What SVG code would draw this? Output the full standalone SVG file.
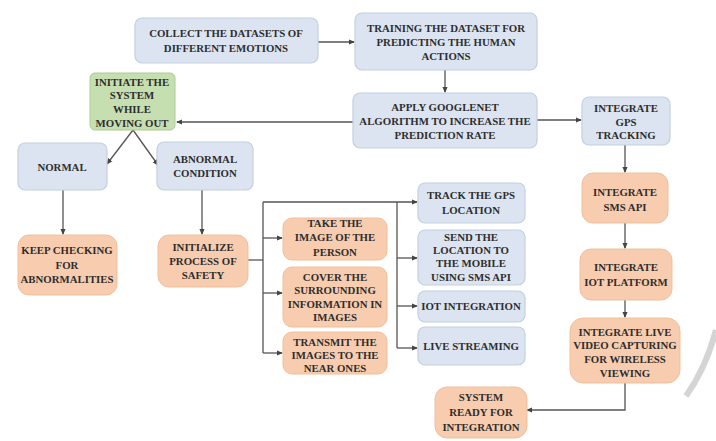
<svg xmlns="http://www.w3.org/2000/svg" width="716" height="441" viewBox="0 0 716 441">
<defs>
<style>
.b{fill:#dbe4f0;stroke:#c3cfe0;stroke-width:1.2}
.o{fill:#f8ccae;stroke:#f1bf9d;stroke-width:1}
.g{fill:#c6dfb1;stroke:#aecb96;stroke-width:1}
text{font-family:"Liberation Serif","Times New Roman",serif;font-weight:bold;font-size:10.8px;fill:#2e2e2e;text-anchor:middle}
.c path{fill:none;stroke:#555;stroke-width:1.3}
</style>
<marker id="a" viewBox="0 0 6 6" refX="5" refY="3" markerWidth="5" markerHeight="5" orient="auto"><path d="M0,0.5 L6,3 L0,5.5 z" fill="#444"/></marker>
</defs>
<rect width="716" height="441" fill="#fff"/>
<path d="M716,330 Q706,368 686,396" fill="none" stroke="#d4d4d4" stroke-width="6"/>
<g class="c">
<path d="M318,42 H354" marker-end="url(#a)"/>
<path d="M445,70 V92" marker-end="url(#a)"/>
<path d="M353,122 H177" marker-end="url(#a)"/>
<path d="M537,120 H581" marker-end="url(#a)"/>
<path d="M133,130 L107,164" marker-end="url(#a)"/>
<path d="M133,130 L158,165" marker-end="url(#a)"/>
<path d="M63,190 V234" marker-end="url(#a)"/>
<path d="M202,190 V234" marker-end="url(#a)"/>
<path d="M248,260 H263"/>
<path d="M263,202 V353"/>
<path d="M263,202 H417" marker-end="url(#a)"/>
<path d="M397,202 V348"/>
<path d="M397,258 H417" marker-end="url(#a)"/>
<path d="M397,306 H417" marker-end="url(#a)"/>
<path d="M397,348 H417" marker-end="url(#a)"/>
<path d="M263,238 H282" marker-end="url(#a)"/>
<path d="M263,293 H282" marker-end="url(#a)"/>
<path d="M263,353 H282" marker-end="url(#a)"/>
<path d="M625,145 V172" marker-end="url(#a)"/>
<path d="M625,223 V248" marker-end="url(#a)"/>
<path d="M625,300 V317" marker-end="url(#a)"/>
<path d="M625,383 V410 H527" marker-end="url(#a)"/>
</g>
<g id="collect"><rect class="b" x="135" y="18" width="183" height="45" rx="7"/><text x="226" y="37">COLLECT THE DATASETS OF</text><text x="226" y="52">DIFFERENT EMOTIONS</text></g>
<g id="training"><rect class="b" x="355" y="13" width="182" height="57" rx="7"/><text x="446" y="32">TRAINING THE DATASET FOR</text><text x="446" y="46">PREDICTING THE HUMAN</text><text x="446" y="60">ACTIONS</text></g>
<g id="googlenet"><rect class="b" x="353" y="93" width="184" height="55" rx="7"/><text x="445" y="111">APPLY GOOGLENET</text><text x="445" y="125">ALGORITHM TO INCREASE THE</text><text x="445" y="139">PREDICTION RATE</text></g>
<g id="gps"><rect class="b" x="582" y="97" width="88" height="48" rx="7"/><text x="626" y="112">INTEGRATE</text><text x="626" y="126">GPS</text><text x="626" y="139">TRACKING</text></g>
<g id="initiate"><rect class="g" x="90" y="73" width="85" height="57" rx="5"/><text x="132" y="86">INITIATE THE</text><text x="132" y="99">SYSTEM</text><text x="132" y="113">WHILE</text><text x="132" y="127">MOVING OUT</text></g>
<g id="normal"><rect class="b" x="18" y="143" width="89" height="47" rx="7"/><text x="62" y="171">NORMAL</text></g>
<g id="abnormal"><rect class="b" x="157" y="142" width="96" height="48" rx="7"/><text x="205" y="163">ABNORMAL</text><text x="205" y="177">CONDITION</text></g>
<g id="keep"><rect class="o" x="18" y="235" width="99" height="60" rx="11"/><text x="67" y="254">KEEP CHECKING</text><text x="67" y="269">FOR</text><text x="67" y="283">ABNORMALITIES</text></g>
<g id="initialize"><rect class="o" x="158" y="235" width="90" height="52" rx="11"/><text x="203" y="251">INITIALIZE</text><text x="203" y="265">PROCESS OF</text><text x="203" y="279">SAFETY</text></g>
<g id="take"><rect class="o" x="283" y="218" width="104" height="42" rx="9"/><text x="335" y="227">TAKE THE</text><text x="335" y="241">IMAGE OF THE</text><text x="335" y="256">PERSON</text></g>
<g id="cover"><rect class="o" x="283" y="267" width="104" height="60" rx="9"/><text x="335" y="281">COVER THE</text><text x="335" y="294">SURROUNDING</text><text x="335" y="308">INFORMATION IN</text><text x="335" y="321">IMAGES</text></g>
<g id="transmit"><rect class="o" x="283" y="332" width="104" height="42" rx="9"/><text x="335" y="346">TRANSMIT THE</text><text x="335" y="359">IMAGES TO THE</text><text x="335" y="372">NEAR ONES</text></g>
<g id="track"><rect class="b" x="418" y="183" width="107" height="40" rx="7"/><text x="471" y="199">TRACK THE GPS</text><text x="471" y="214">LOCATION</text></g>
<g id="send"><rect class="b" x="418" y="230" width="107" height="55" rx="7"/><text x="471" y="241">SEND THE</text><text x="471" y="254">LOCATION TO</text><text x="471" y="267">THE MOBILE</text><text x="471" y="281">USING SMS API</text></g>
<g id="iot"><rect class="b" x="418" y="291" width="107" height="31" rx="7"/><text x="471" y="310">IOT INTEGRATION</text></g>
<g id="live"><rect class="b" x="418" y="327" width="107" height="38" rx="7"/><text x="471" y="350">LIVE STREAMING</text></g>
<g id="sms"><rect class="o" x="582" y="173" width="86" height="50" rx="11"/><text x="625" y="196">INTEGRATE</text><text x="625" y="211">SMS API</text></g>
<g id="iotp"><rect class="o" x="580" y="249" width="92" height="51" rx="11"/><text x="626" y="271">INTEGRATE</text><text x="626" y="286">IOT PLATFORM</text></g>
<g id="livevideo"><rect class="o" x="570" y="318" width="110" height="65" rx="13"/><text x="625" y="336">INTEGRATE LIVE</text><text x="625" y="349">VIDEO CAPTURING</text><text x="625" y="363">FOR WIRELESS</text><text x="625" y="377">VIEWING</text></g>
<g id="ready"><rect class="o" x="435" y="387" width="92" height="51" rx="12"/><text x="481" y="401">SYSTEM</text><text x="481" y="416">READY FOR</text><text x="481" y="431">INTEGRATION</text></g>
</svg>
